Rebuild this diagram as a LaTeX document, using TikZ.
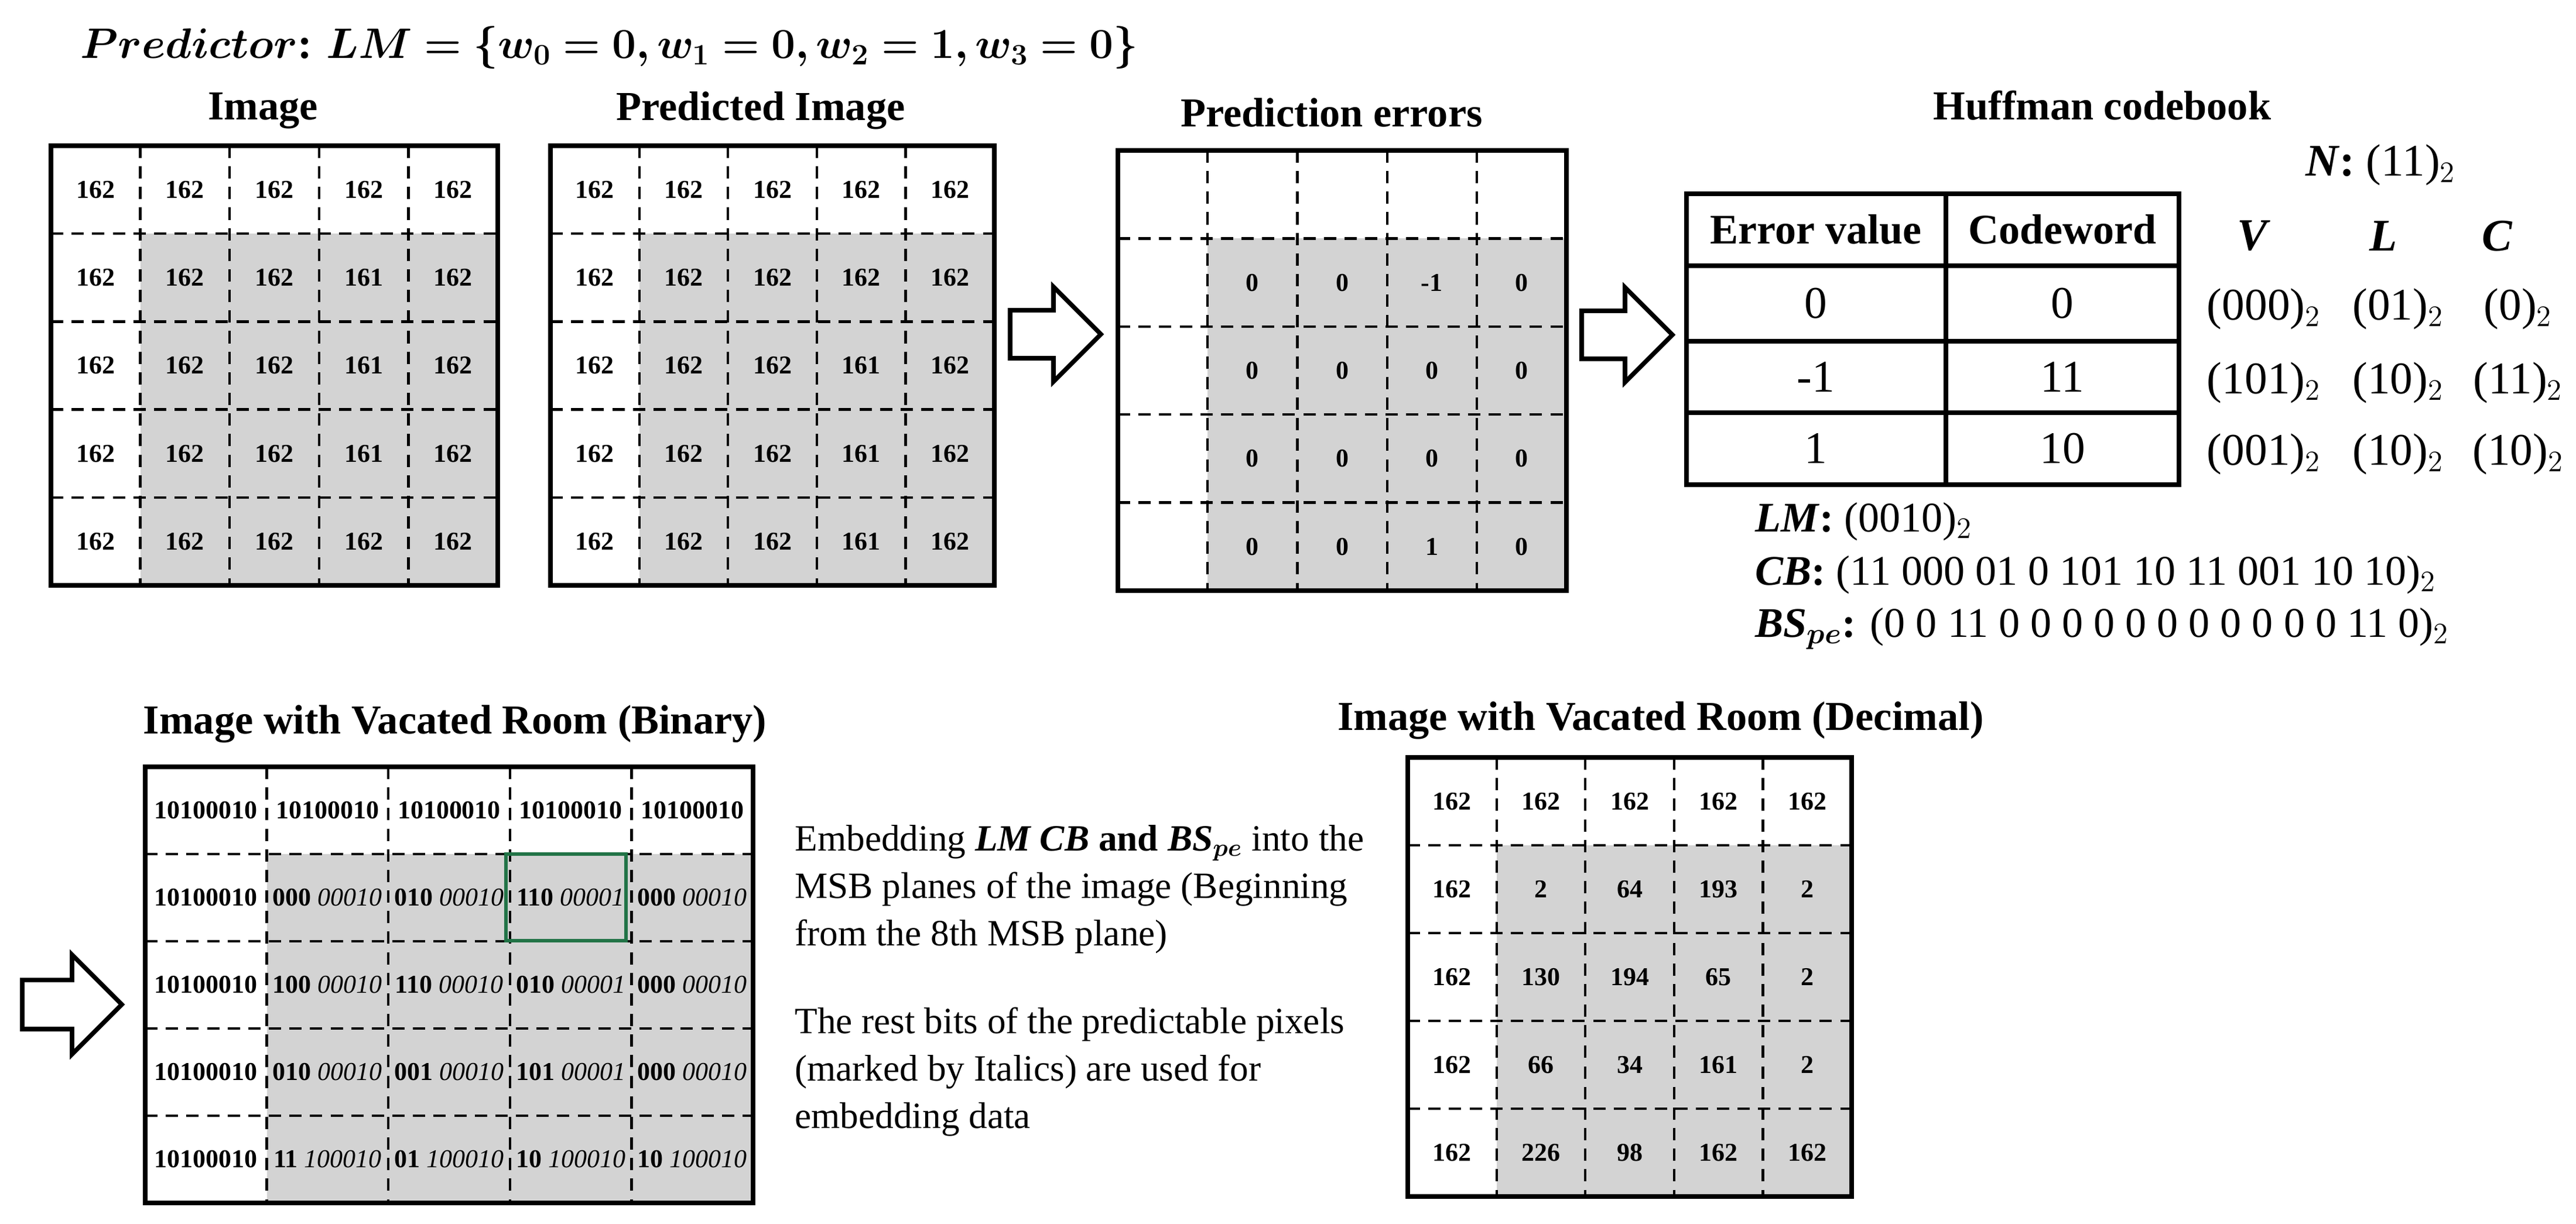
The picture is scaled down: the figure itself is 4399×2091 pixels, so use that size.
\documentclass[tikz,border=0pt]{standalone}
\usepackage{amsmath,bm}
\usepackage{fontspec}
\setmainfont{Liberation Serif}
\usetikzlibrary{shapes.arrows}

\definecolor{cellgray}{RGB}{211,211,211}
\definecolor{selgreen}{RGB}{33,115,70}

\tikzset{
  frame/.style={line width=2.4pt},
  cut/.style={line width=1.2pt,dash pattern=on 6pt off 4pt},
  ttl/.style={font=\fontsize{20}{24}\selectfont\bfseries},
  small/.style={font=\fontsize{12.5}{14}\selectfont\bfseries},
  big/.style={font=\fontsize{22}{26}\selectfont},
  mid/.style={font=\fontsize{20.5}{24}\selectfont},
  bigarrow/.style={draw,line width=2.2pt,single arrow,minimum height=1.55cm,
    inner xsep=0pt,inner ysep=0.37cm,single arrow head extend=0.4cm}
}

% grid: x0, y0, cell width, cell height
\newcommand\pixgrid[4]{%
  \fill[cellgray] (#1+#3,#2+#4) rectangle (#1+5*#3,#2+5*#4);
  \foreach \k in {1,...,4} {
    \draw[cut] (#1+\k*#3,#2) -- (#1+\k*#3,#2+5*#4);
    \draw[cut] (#1,#2+\k*#4) -- (#1+5*#3,#2+\k*#4);
  }
  \draw[frame] (#1,#2) rectangle (#1+5*#3,#2+5*#4);
}
\newcommand\bi[2]{\textbf{#1} \textit{#2}}

\begin{document}
\begin{tikzpicture}[x=0.01cm,y=-0.01cm]
\useasboundingbox (0,0) rectangle (4399,2091);

\node[anchor=west,font=\fontsize{21}{24}\selectfont] (title) at (125,81)
  {$\bm{Predictor}$\textbf{:} $\bm{LM=\{w_0=0,w_1=0,w_2=1,w_3=0\}}$};

% original image
\node[ttl] (imgT) at (449,189) {Image};
\pixgrid{87}{249}{152.6}{150.2}
\foreach \row [count=\r] in {{162,162,162,162,162},{162,162,162,161,162},
  {162,162,162,161,162},{162,162,162,161,162},{162,162,162,162,162}}
  \foreach \v [count=\c] in \row
    \node[small] (img-\r-\c) at (87+152.6*\c-76.3,249+150.2*\r-75.1) {\v};

% predicted image
\node[ttl] (predT) at (1299,189) {Predicted Image};
\pixgrid{940}{249}{151.6}{150.2}
\foreach \row [count=\r] in {{162,162,162,162,162},{162,162,162,162,162},
  {162,162,162,161,162},{162,162,162,161,162},{162,162,162,161,162}}
  \foreach \v [count=\c] in \row
    \node[small] (pred-\r-\c) at (940+151.6*\c-75.8,249+150.2*\r-75.1) {\v};

\node[bigarrow] (arr1) at (1782,571) {};

% prediction errors
\node[ttl] (errT) at (2274,192) {Prediction errors};
\pixgrid{1909}{257}{153.2}{150.4}
\foreach \row [count=\r] in {{0,0,-1,0},{0,0,0,0},{0,0,0,0},{0,0,1,0}}
  \foreach \v [count=\c] in \row
    \node[small] (err-\r-\c) at (1909+153.2*\c+76.6,257+150.4*\r+75.2) {\v};

\node[bigarrow] (arr2) at (2758,572) {};

% Huffman codebook
\node[ttl] (hufT) at (3590,180) {Huffman codebook};
\node[big,anchor=west] (nval) at (3925,282) {\textbf{\textit{N}:} (11)$_2$};
\draw[frame] (2880,331) rectangle (3721,828);
\draw[frame] (3323,331) -- (3323,828);
\foreach \yy in {454,583,705} \draw[frame] (2880,\yy) -- (3721,\yy);
\node[font=\fontsize{20.5}{24}\selectfont\bfseries] (hErr) at (3101,392) {Error value};
\node[font=\fontsize{20.5}{24}\selectfont\bfseries] (hCode) at (3522,392) {Codeword};
\foreach \e/\w/\vv/\ll/\cc/\yy in {0/0/000/01/0/518,-1/11/101/10/11/644,1/10/001/10/10/766} {
  \node[big] (err\e) at (3101,\yy) {\e};
  \node[big] (code\w) at (3522,\yy) {\w};
  \node[big] (v\vv) at (3866,\yy+10) {(\vv)$_2$};
  \node[big] (l\vv) at (4095,\yy+10) {(\ll)$_2$};
  \node[big] (c\vv) at (4300,\yy+10) {(\cc)$_2$};
}
\node[font=\fontsize{22}{26}\selectfont\bfseries\itshape] (hV) at (3846,403) {V};
\node[font=\fontsize{22}{26}\selectfont\bfseries\itshape] (hL) at (4070,403) {L};
\node[font=\fontsize{22}{26}\selectfont\bfseries\itshape] (hC) at (4264,403) {C};

\node[mid,anchor=west] (lm) at (2985,891) {\textbf{\textit{LM}:} (0010)$_2$};
\node[mid,anchor=west] (cb) at (2985,982) {\textbf{\textit{CB}:} (11 000 01 0 101 10 11 001 10 10)$_2$};
\node[mid,anchor=west] (bs) at (2985,1074) {\textbf{\textit{BS}$_{\bm{pe}}$:} (0 0 11 0 0 0 0 0 0 0 0 0 0 0 11 0)$_2$};

% binary image
\node[bigarrow,minimum height=1.7cm,inner ysep=0.38cm,single arrow head extend=0.43cm] (arr3) at (102,1716) {};
\node[ttl] (binT) at (777,1237) {Image with Vacated Room (Binary)};
\pixgrid{248}{1310}{207.6}{149}
\draw[selgreen,line width=1.6pt] (864,1459) rectangle (1069,1607);
\foreach \row [count=\r] in {
  {\textbf{10100010},\textbf{10100010},\textbf{10100010},\textbf{10100010},\textbf{10100010}},
  {\textbf{10100010},\bi{000}{00010},\bi{010}{00010},\bi{110}{00001},\bi{000}{00010}},
  {\textbf{10100010},\bi{100}{00010},\bi{110}{00010},\bi{010}{00001},\bi{000}{00010}},
  {\textbf{10100010},\bi{010}{00010},\bi{001}{00010},\bi{101}{00001},\bi{000}{00010}},
  {\textbf{10100010},\bi{11}{100010},\bi{01}{100010},\bi{10}{100010},\bi{10}{100010}}}
  \foreach \v [count=\c] in \row
    \node[font=\fontsize{12.5}{14}\selectfont,inner sep=0pt] (bin-\r-\c) at (248+207.6*\c-103.8,1310+149*\r-74.5) {\v};

% description
\node[anchor=west,align=left,font=\fontsize{18}{23}\selectfont] (desc1) at (1345,1519)
  {Embedding \textbf{\textit{LM CB}} \textbf{and} \textbf{\textit{BS}$_{\bm{pe}}$} into the\\
   MSB planes of the image (Beginning\\ from the 8th MSB plane)};
\node[anchor=west,align=left,font=\fontsize{18}{23}\selectfont] (desc2) at (1345,1831)
  {The rest bits of the predictable pixels\\ (marked by Italics) are used for\\ embedding data};

% decimal image
\node[ttl] (decT) at (2836,1231) {Image with Vacated Room (Decimal)};
\pixgrid{2404}{1294}{151.6}{150}
\foreach \row [count=\r] in {{162,162,162,162,162},{162,2,64,193,2},
  {162,130,194,65,2},{162,66,34,161,2},{162,226,98,162,162}}
  \foreach \v [count=\c] in \row
    \node[small] (dec-\r-\c) at (2404+151.6*\c-75.8,1294+150*\r-75) {\v};
\end{tikzpicture}
\end{document}
